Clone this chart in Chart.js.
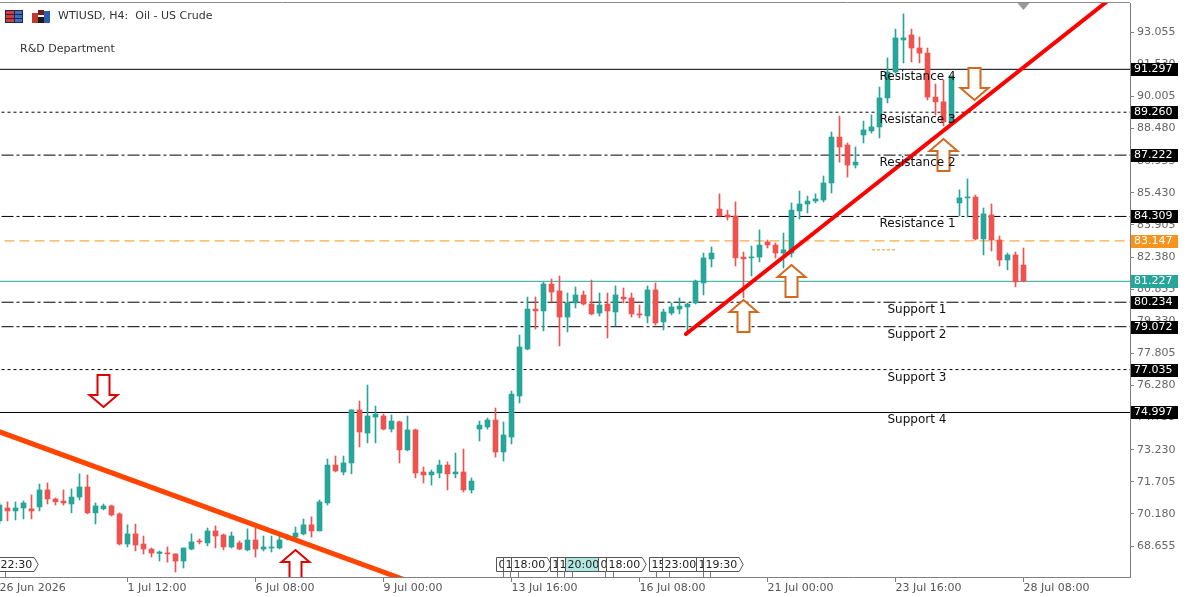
<!DOCTYPE html>
<html><head><meta charset="utf-8">
<script src="https://cdn.jsdelivr.net/npm/chart.js@4.4.1/dist/chart.umd.min.js"></script>
<style>html,body{margin:0;padding:0;background:#fff;}#wrap{width:1190px;height:597px;position:relative;}</style>
</head><body><div id="wrap"><canvas id="c" width="1190" height="597"></canvas></div>
<script>
// ---- candle data (H4 bars, index 0..128) ----
const opens  = [69.85,70.46,70.32,70.46,70.42,70.51,71.32,70.89,70.79,70.65,70.98,71.46,70.23,70.42,70.56,70.18,68.75,69.23,68.75,68.51,68.30,68.32,68.28,67.94,68.51,68.89,68.80,69.37,69.18,68.61,68.80,68.47,68.94,68.51,68.56,68.56,68.99,69.08,69.23,69.66,69.37,70.70,72.50,72.17,72.60,75.12,74.02,74.78,74.83,74.21,74.55,73.22,74.17,72.17,72.03,72.12,72.50,72.08,72.17,71.32,74.21,74.31,74.64,73.12,73.83,75.78,78.01,79.91,79.82,81.10,80.77,79.53,80.20,80.58,80.15,79.72,80.15,79.77,80.48,80.44,79.68,79.58,80.82,79.30,79.72,79.91,80.01,80.20,81.15,82.29,84.66,84.38,84.33,82.38,82.34,82.38,83.10,82.95,82.57,82.57,84.57,84.90,85.04,85.09,85.90,88.08,87.70,86.75,88.18,88.37,88.56,89.94,91.17,92.69,92.93,92.31,92.07,89.98,89.75,88.75,84.95,85.19,85.23,83.24,84.38,83.19,82.24,82.48,82.00];
const highs  = [70.70,70.75,70.75,70.79,71.08,71.60,71.65,70.94,71.32,71.37,72.08,72.03,70.70,70.65,70.60,70.23,69.66,69.70,69.13,68.56,68.42,68.61,68.28,68.56,69.23,68.99,69.51,69.61,69.23,69.32,68.89,69.47,69.51,69.13,69.13,69.18,69.18,69.56,69.94,70.04,70.84,72.79,72.93,72.93,75.12,75.54,76.30,75.30,74.92,74.88,74.59,74.83,74.21,72.41,72.27,72.74,72.65,73.07,73.26,71.89,74.59,74.73,75.21,74.55,76.02,78.68,80.48,80.48,81.20,81.34,81.48,80.67,80.96,80.77,81.29,80.67,80.67,81.01,80.91,80.67,80.10,81.01,81.15,79.91,80.20,80.44,80.20,81.29,82.57,82.86,85.38,84.61,85.00,82.62,82.90,83.67,83.19,83.05,83.52,84.95,85.52,85.28,85.38,86.23,88.32,89.08,87.80,87.61,88.84,89.13,90.46,91.84,93.21,93.93,93.21,92.83,92.31,90.60,90.79,90.98,85.57,86.09,85.33,84.71,84.90,83.38,82.57,82.62,82.81];
const lows   = [69.70,69.85,69.89,69.94,69.94,70.32,70.65,70.60,70.60,70.23,70.84,70.18,69.70,70.37,70.08,68.70,68.61,68.42,68.28,68.13,67.94,67.89,67.42,67.61,68.47,68.75,68.66,68.56,68.47,68.56,68.47,68.42,68.13,68.42,68.37,68.51,68.94,69.04,69.18,69.08,69.37,70.60,72.17,72.03,72.08,73.36,73.55,73.55,74.17,74.07,72.60,73.17,71.89,71.65,71.55,71.89,71.32,71.89,71.22,71.17,73.64,74.21,72.88,72.69,73.50,75.45,77.97,78.96,78.87,80.25,78.16,78.82,79.96,80.10,79.63,79.58,78.54,79.11,80.20,79.53,79.49,79.25,79.15,78.92,79.63,79.68,78.87,80.15,80.58,81.91,84.33,84.14,81.96,80.44,81.48,82.15,82.81,82.34,81.86,82.38,84.19,84.47,84.95,85.00,85.42,86.89,86.18,86.61,87.80,88.27,88.04,89.70,91.12,91.60,91.65,91.60,89.84,89.13,88.61,88.65,84.33,84.28,83.19,82.48,82.67,81.96,81.77,80.96,81.20];
const closes = [70.60,70.32,70.46,70.70,70.32,71.32,70.89,70.75,70.70,70.98,71.46,70.23,70.56,70.56,70.13,68.75,69.23,68.70,68.51,68.32,68.37,68.28,67.94,68.56,68.85,68.85,69.37,69.13,68.61,69.13,68.51,68.94,68.51,68.61,68.61,68.94,69.13,69.27,69.66,69.37,70.75,72.50,72.22,72.60,75.12,74.07,74.83,74.92,74.21,74.59,73.22,74.17,72.12,72.03,72.17,72.50,72.08,72.17,71.32,71.74,74.40,74.64,73.12,73.93,75.87,78.11,79.91,79.82,81.10,80.72,79.53,80.20,80.58,80.15,79.68,80.10,79.82,80.58,80.39,79.68,79.63,80.82,79.25,79.77,80.01,80.05,80.15,81.24,82.34,82.57,84.33,84.28,82.34,82.29,82.38,82.95,82.95,82.57,82.72,84.61,84.90,85.04,85.14,85.90,88.08,87.61,86.75,86.89,88.42,88.56,89.94,91.17,92.79,92.79,92.31,92.07,89.98,89.75,88.80,90.98,85.19,85.23,83.24,84.43,83.19,82.24,82.48,81.20,81.23];

// ---- axes ----
const xTickIdx    = [0,16,32,48,64,80,96,112,128];
const xTickLabels = ['26 Jun 2026','1 Jul 12:00','6 Jul 08:00','9 Jul 00:00','13 Jul 16:00','16 Jul 08:00','21 Jul 00:00','23 Jul 16:00','28 Jul 08:00'];
const yTicks = [68.655,70.180,71.705,73.230,74.755,76.280,77.805,79.330,80.855,82.380,83.905,85.430,86.955,88.480,90.005,91.530,93.055];

// ---- levels ----
const levelPrices = [91.297,89.260,87.222,84.309,80.234,79.072,77.035,74.997];
const levelNames  = ['Resistance 4','Resistance 3','Resistance 2','Resistance 1','Support 1','Support 2','Support 3','Support 4'];
const levelStyles = ['solid','dot','dashdot','dashdot','dashdot','dashdot','dot','solid'];
const levelNameIdx = [110,110,110,110,111,111,111,111];
const askPrice = 83.147;
const bidPrice = 81.227;
const shortMarkIdx = [109.06,111.94];
const shortMarkPrice = 82.72;

// ---- trend lines (index, price) ----
const upTrendIdx = [85.81,141.5];
const upTrendPrice = [78.725,95.44];
const downTrendIdx = [-2,52];
const downTrendPrice = [74.355,66.86];

// ---- arrows ----
const arrowIdx   = [12.94,36.94,92.94,98.94,117.94,121.81];
const arrowPrice = [75.26,68.465,80.34,82.00,87.99,89.84];
const arrowDir   = ['down','up','up','up','up','down'];
const arrowKind  = ['red','red','orange','orange','orange','orange'];

// ---- bottom time tags ----
const tagIdx   = [-0.19,62.06,62.94,63.94,68.81,69.69,70.69,74.81,75.81,81.19,82.81,87.06,87.94];
const tagTexts = ['22:30','00:00','13:00','18:00','13:30','14:00','20:00','00:00','18:00','15:00','23:00','16:00','19:30'];
const tagHighlight = [false,false,false,false,false,false,true,false,false,false,false,false,false];

const TEAL='#26a69a', RED='#ef5350', ORANGE='#f7941d', ARROW_OR='#d2691e', ARROW_RED='#e00000';
const FONT="'DejaVu Sans', sans-serif";
Chart.defaults.font.family = FONT;
Chart.defaults.font.size = 11;

const candleColors = opens.map((o,i)=> closes[i] >= o ? TEAL : RED);
const wickData = opens.map((o,i)=>({x:i, y:[lows[i], highs[i]]}));
const bodyData = opens.map((o,i)=>({x:i, y:[o, closes[i]]}));

const dashOf = {solid:[], dot:[3,3], dashdot:[12,3,3,3]};
function hLine(price, color, dash, order, x0=-5, x1=150){
  return {type:'line', data:[{x:x0,y:price},{x:x1,y:price}], borderColor:color, borderWidth:1, borderDash:dash, pointRadius:0, order, clip:0, tension:0};
}
const datasets = [];
datasets.push({type:'line', data:upTrendIdx.map((v,i)=>({x:v,y:upTrendPrice[i]})), borderColor:'#ff0000', borderWidth:4, borderCapStyle:'round', pointRadius:0, order:0, clip:0});
datasets.push({type:'line', data:downTrendIdx.map((v,i)=>({x:v,y:downTrendPrice[i]})), borderColor:'#ff4500', borderWidth:5, pointRadius:0, order:0, clip:0});
datasets.push({type:'bar', data:bodyData, backgroundColor:candleColors, barThickness:5, minBarLength:1, grouped:false, order:1, clip:0});
datasets.push({type:'bar', data:wickData, backgroundColor:candleColors, barThickness:1, minBarLength:1, grouped:false, order:2, clip:0});
levelPrices.forEach((p,i)=> datasets.push(hLine(p,'#000',dashOf[levelStyles[i]],3)));
datasets.push(hLine(askPrice, ORANGE, [10,5], 3));
datasets.push(hLine(bidPrice, TEAL, [], 3));
datasets.push(hLine(shortMarkPrice, ORANGE, [3,2], 3, shortMarkIdx[0], shortMarkIdx[1]));

function drawArrow(ctx, cx, ty, dir, color){
  const hw=14, sw=6, hh=12, L=32, s = dir==='up'?1:-1;
  ctx.beginPath();
  ctx.moveTo(cx,ty); ctx.lineTo(cx+hw,ty+s*hh); ctx.lineTo(cx+sw,ty+s*hh); ctx.lineTo(cx+sw,ty+s*L);
  ctx.lineTo(cx-sw,ty+s*L); ctx.lineTo(cx-sw,ty+s*hh); ctx.lineTo(cx-hw,ty+s*hh); ctx.closePath();
  ctx.fillStyle='#fff'; ctx.fill(); ctx.lineWidth=2; ctx.strokeStyle=color; ctx.lineJoin='miter'; ctx.stroke();
}
function drawTag(ctx, x, yTop, text, fill){
  ctx.font='11px '+FONT;
  const w = ctx.measureText(text).width + 4, h=14;
  ctx.beginPath();
  ctx.moveTo(x,yTop); ctx.lineTo(x+w,yTop); ctx.lineTo(x+w+4,yTop+h/2); ctx.lineTo(x+w,yTop+h); ctx.lineTo(x,yTop+h); ctx.closePath();
  ctx.fillStyle=fill; ctx.fill(); ctx.strokeStyle='#555'; ctx.lineWidth=1; ctx.stroke();
  ctx.fillStyle='#222'; ctx.textAlign='left'; ctx.textBaseline='middle'; ctx.fillText(text, x+2, yTop+h/2+0.5);
  ctx.beginPath(); ctx.moveTo(x+7, yTop+h); ctx.lineTo(x+7, yTop+h+6); ctx.strokeStyle='#777'; ctx.stroke();
}

const overlay = {
  id:'overlay',
  beforeDatasetsDraw(chart){
    const {ctx, chartArea:ca} = chart;
    ctx.save(); ctx.strokeStyle='#8c8c8c'; ctx.lineWidth=1;
    ctx.beginPath(); ctx.moveTo(0, ca.top-0.5); ctx.lineTo(ca.right, ca.top-0.5); ctx.stroke(); ctx.restore();
  },
  afterDatasetsDraw(chart){
    const {ctx, chartArea:ca, scales:{x,y}} = chart;
    ctx.save();
    ctx.beginPath(); ctx.rect(ca.left, ca.top, ca.right-ca.left, ca.bottom-ca.top); ctx.clip();
    // arrows
    arrowIdx.forEach((v,i)=>{
      drawArrow(ctx, Math.round(x.getPixelForValue(v))+0.5, Math.round(y.getPixelForValue(arrowPrice[i])), arrowDir[i], arrowKind[i]==='red'?ARROW_RED:ARROW_OR);
    });
    // level names
    ctx.font='12px '+FONT; ctx.fillStyle='#111'; ctx.textAlign='left'; ctx.textBaseline='top';
    levelPrices.forEach((p,i)=>{ ctx.fillText(levelNames[i], x.getPixelForValue(levelNameIdx[i]), Math.round(y.getPixelForValue(p))+2); });
    // bottom time tags
    tagIdx.forEach((v,i)=>{ drawTag(ctx, Math.round(x.getPixelForValue(v))+0.5, 557.5, tagTexts[i], tagHighlight[i]?'#b2e8e2':'#fff'); });
    // shift marker
    const sx = x.getPixelForValue(128);
    ctx.fillStyle='#9a9a9a'; ctx.beginPath(); ctx.moveTo(sx-6, ca.top); ctx.lineTo(sx+6, ca.top); ctx.lineTo(sx, ca.top+7); ctx.closePath(); ctx.fill();
    ctx.restore();
    // header
    ctx.save();
    // icon 1
    ctx.fillStyle='#1f2a44'; ctx.fillRect(5,10,18,13);
    const rowsY=[11,15,19];
    rowsY.forEach(ry=>{ ctx.fillStyle='#d43a3a'; ctx.fillRect(6,ry,8,3); ctx.fillStyle='#3a6fc4'; ctx.fillRect(15,ry,7,3); });
    // icon 2
    ctx.fillStyle='#c0392b'; ctx.fillRect(32,13,6,10);
    ctx.fillStyle='#6d1d1d'; ctx.fillRect(38,10,6,5);
    ctx.fillStyle='#2a5db0'; ctx.fillRect(44,11,6,12);
    ctx.fillStyle='#1a1a1a'; ctx.fillRect(38,17,6,6);
    ctx.font='11px '+FONT; ctx.fillStyle='#333'; ctx.textAlign='left'; ctx.textBaseline='middle';
    ctx.fillText('WTIUSD, H4:  Oil - US Crude', 58, 16.5);
    ctx.fillText('R&D Department', 20, 49.5);
    ctx.restore();
  },
  afterDraw(chart){
    const {ctx, chartArea:ca, scales:{y}} = chart;
    ctx.save(); ctx.font='11px '+FONT; ctx.textAlign='left'; ctx.textBaseline='middle';
    const boxes = levelPrices.map(p=>({p, bg:'#000'})).concat([{p:askPrice,bg:ORANGE},{p:bidPrice,bg:TEAL}]);
    boxes.forEach(b=>{
      const py = Math.round(y.getPixelForValue(b.p));
      ctx.fillStyle=b.bg; ctx.fillRect(ca.right+1, py-6, 47, 13);
      ctx.fillStyle='#fff'; ctx.fillText(b.p.toFixed(3), ca.right+4, py+0.5);
    });
    ctx.restore();
  }
};

new Chart(document.getElementById('c'), {
  type:'bar',
  data:{datasets},
  options:{
    responsive:false, animation:false, devicePixelRatio:1,
    layout:{padding:{top:3,left:0,right:0,bottom:0}},
    plugins:{legend:{display:false}, tooltip:{enabled:false}},
    scales:{
      x:{type:'linear', position:'bottom', min:0.0625, max:141.3125, offset:false,
        grid:{offset:false, drawOnChartArea:false, drawTicks:true, tickLength:5, color:'#808080'},
        border:{display:true, color:'#808080'},
        ticks:{autoSkip:false, maxRotation:0, minRotation:0, align:'start', padding:0, color:'#555',
          callback:(v)=>{ const k = xTickIdx.indexOf(v); return k>=0 ? xTickLabels[k] : ''; }},
        afterBuildTicks:(s)=>{ s.ticks = xTickIdx.map(v=>({value:v})); },
        afterFit:(s)=>{ s.height = 20; s.paddingLeft=0; s.paddingRight=0; }
      },
      y:{type:'linear', position:'right', min:67.1825, max:94.4475, beginAtZero:false,
        grid:{drawOnChartArea:false, drawTicks:true, tickLength:4, color:'#808080'},
        border:{display:true, color:'#808080'},
        ticks:{padding:3, color:'#666', crossAlign:'near', callback:(v)=>Number(v).toFixed(3)},
        afterBuildTicks:(s)=>{ s.ticks = yTicks.map(v=>({value:v})); },
        afterFit:(s)=>{ s.width = 60; s.paddingTop=0; s.paddingBottom=0; }
      }
    }
  },
  plugins:[overlay]
});
</script></body></html>
